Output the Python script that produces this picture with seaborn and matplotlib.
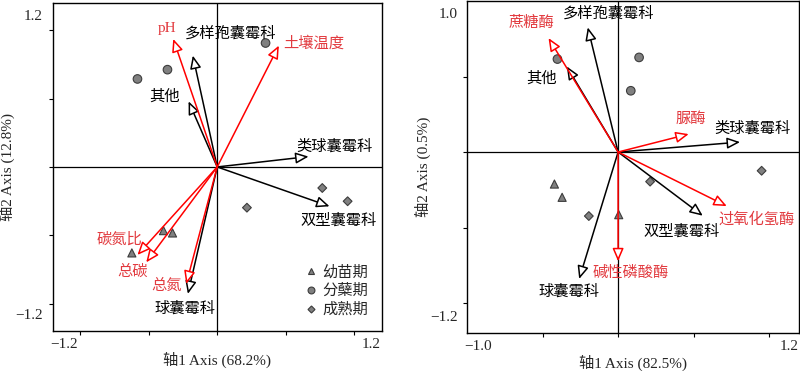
import numpy as np
import pandas as pd
import seaborn as sb
import matplotlib
matplotlib.use('Agg')
import matplotlib.pyplot as plt
from matplotlib.transforms import ScaledTranslation

## data ##
stage = ['幼苗期'] * 3 + ['分蘖期'] * 3 + ['成熟期'] * 3

species = ['多样孢囊霉科', '其他', '类球囊霉科', '双型囊霉科', '球囊霉科']

left_sp_x = [-0.178, -0.209, 0.667, 0.820, -0.214]
left_sp_y = [0.815, 0.480, 0.076, -0.288, -0.929]
left_env = ['pH', '土壤温度', '碳氮比', '总碳', '总氮']
left_env_x = [-0.321, 0.450, -0.582, -0.518, -0.226]
left_env_y = [0.937, 0.888, -0.644, -0.698, -0.856]
left_pt_x = [-0.623, -0.392, -0.326, -0.582, -0.363, 0.353, 0.767, 0.952, 0.217]
left_pt_y = [-0.629, -0.466, -0.483, 0.644, 0.712, 0.907, -0.154, -0.251, -0.298]
left_xlabel = '轴1 Axis (68.2%)'
left_ylabel = '轴2 Axis (12.8%)'

right_sp_x = [-0.201, -0.340, 0.808, 0.561, -0.258]
right_sp_y = [0.826, 0.567, 0.066, -0.422, -0.841]
right_env = ['蔗糖酶', '脲酶', '过氧化氢酶', '碱性磷酸酶']
right_env_x = [-0.461, 0.468, 0.720, 0.0]
right_env_y = [0.755, 0.119, -0.358, -0.724]
right_pt_x = [-0.422, -0.371, 0.004, -0.402, 0.139, 0.084, -0.194, 0.212, 0.951]
right_pt_y = [-0.212, -0.300, -0.415, 0.616, 0.627, 0.406, -0.424, -0.196, -0.124]
right_xlabel = '轴1 Axis (82.5%)'
right_ylabel = '轴2 Axis (0.5%)'

## label offsets (pixels from arrow tip) ##
left_sp_off = [(38, 22), (-24, 5), (26, 10), (9, -14), (-3, -15)]
left_env_off = [(-6, 10), (35, 2), (-18, 15), (-14, -9), (-20, -2)]
right_sp_off = [(21, 14), (-25, -12), (12, 14), (-21, -16), (-10, -13)]
right_env_off = [(-17, 15), (2, 15), (30, -13), (13, -12)]

sb.set_style('ticks')
FONT = ['Liberation Serif', 'Noto Sans CJK SC']
plt.rcParams['font.family'] = FONT
plt.rcParams['axes.unicode_minus'] = True

RED_LINE = '#ff0000'
RED_TEXT = '#e23a3f'
markers = {'幼苗期': '^', '分蘖期': 'o', '成熟期': 'D'}
sizes = {'幼苗期': 34, '分蘖期': 38, '成熟期': 20}

fig = plt.figure(figsize=(8, 3.71), dpi=100)
ax1 = fig.add_axes([0.066, 0.108, 0.411, 0.884])
ax2 = fig.add_axes([0.584, 0.102, 0.415, 0.895])


def draw_arrows(ax, names, xs, ys, offs, line_col, text_col):
    for name, x, y, off in zip(names, xs, ys, offs):
        ax.annotate('', xy=(x, y), xytext=(0, 0),
                    arrowprops=dict(arrowstyle='-|>,head_length=0.65,head_width=0.28',
                                    fc='white', ec=line_col, lw=1.1,
                                    shrinkA=0, shrinkB=0, mutation_scale=12),
                    zorder=3)
        ax.annotate(name, xy=(x, y), xytext=off, textcoords='offset pixels',
                    ha='center', va='center', fontsize=11, color=text_col,
                    family=FONT, zorder=4)


def setup_axes(ax, lim_x, lim_y, minor_x, minor_y, xlabel, ylabel, fmt, ypad):
    ax.set_xlim(lim_x)
    ax.set_ylim(lim_y)
    ax.axhline(0, color='black', lw=0.9, zorder=1)
    ax.axvline(0, color='black', lw=0.9, zorder=1)
    ax.set_xticks(list(lim_x))
    ax.set_yticks(list(lim_y))
    ax.set_xticklabels([(fmt % v).replace('-', '\u2212') for v in lim_x])
    ax.set_yticklabels([(fmt % v).replace('-', '\u2212') for v in lim_y])
    ax.set_xticks(minor_x, minor=True)
    ax.set_yticks(minor_y, minor=True)
    ax.tick_params(which='major', length=0, labelsize=11, pad=5)
    ax.tick_params(axis='y', which='major', pad=7)
    ax.tick_params(which='minor', length=3, width=0.8, direction='out', color='black')
    for s in ax.spines.values():
        s.set_linewidth(1.0)
        s.set_color('black')
    ax.set_xlabel(xlabel, fontsize=11, labelpad=1)
    ax.set_ylabel(ylabel, fontsize=11, labelpad=ypad)
    # shift the end labels inwards, as in the original figure
    xl = ax.get_xticklabels()
    yl = ax.get_yticklabels()
    xl[0].set_transform(xl[0].get_transform() + ScaledTranslation(11 / 100, 0, fig.dpi_scale_trans))
    xl[1].set_transform(xl[1].get_transform() + ScaledTranslation(-10 / 100, 0, fig.dpi_scale_trans))
    yl[0].set_transform(yl[0].get_transform() + ScaledTranslation(0, 17 / 100, fig.dpi_scale_trans))
    yl[1].set_transform(yl[1].get_transform() + ScaledTranslation(0, -12 / 100, fig.dpi_scale_trans))


## left panel ##
df_left = pd.DataFrame({'x': left_pt_x, 'y': left_pt_y, '期': stage})
sb.scatterplot(data=df_left, x='x', y='y', style='期', size='期', markers=markers,
               sizes=sizes, color='#808080', edgecolor='#3c3c3c', linewidth=0.8,
               ax=ax1, zorder=2)
draw_arrows(ax1, species, left_sp_x, left_sp_y, left_sp_off, 'black', 'black')
draw_arrows(ax1, left_env, left_env_x, left_env_y, left_env_off, RED_LINE, RED_TEXT)
setup_axes(ax1, (-1.2, 1.2), (-1.2, 1.2), [-1, -0.5, 0, 0.5, 1], [-1, -0.5, 0, 0.5, 1],
           left_xlabel, left_ylabel, '%.1f', 0)
leg = ax1.legend(loc='lower right', bbox_to_anchor=(1.0, 0.0), frameon=False,
                 handlelength=1.0, handletextpad=0.25, labelspacing=0.3, markerscale=0.8,
                 prop={'family': FONT, 'size': 11})

## right panel ##
df_right = pd.DataFrame({'x': right_pt_x, 'y': right_pt_y, '期': stage})
sb.scatterplot(data=df_right, x='x', y='y', style='期', size='期', markers=markers,
               sizes=sizes, color='#808080', edgecolor='#3c3c3c', linewidth=0.8,
               ax=ax2, zorder=2, legend=False)
draw_arrows(ax2, species, right_sp_x, right_sp_y, right_sp_off, 'black', 'black')
draw_arrows(ax2, right_env, right_env_x, right_env_y, right_env_off, RED_LINE, RED_TEXT)
setup_axes(ax2, (-1.0, 1.2), (-1.2, 1.0), [-0.5, 0, 0.5, 1], [-1, -0.5, 0, 0.5],
           right_xlabel, right_ylabel, '%.1f', -1)

fig.savefig('out.png', dpi=100)
